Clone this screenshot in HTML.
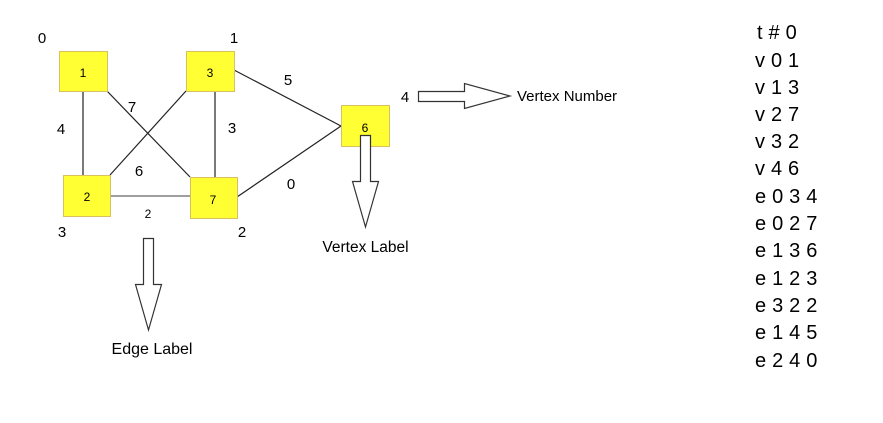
<!DOCTYPE html>
<html><head><style>
body{margin:0;background:#fff;}
svg text{font-family:"Liberation Sans",sans-serif;fill:#000;}
</style></head><body>
<svg width="883" height="418" viewBox="0 0 883 418" xmlns="http://www.w3.org/2000/svg">
<g stroke="#222" stroke-width="1.2" fill="none">
<line x1="83" y1="91" x2="83" y2="175"/>
<line x1="107" y1="91" x2="190" y2="177"/>
<line x1="186" y1="91" x2="110" y2="175"/>
<line x1="215" y1="92" x2="215" y2="177"/>
<line x1="234" y1="70" x2="341" y2="126"/>
<line x1="237" y1="197" x2="341" y2="126"/>
<line x1="110" y1="196" x2="190" y2="196" stroke="#666"/>
</g>
<g fill="#ffff33" stroke="#d8c060" stroke-width="1">
<rect x="59.5" y="51.5" width="48" height="40"/>
<rect x="186.5" y="51.5" width="48" height="40"/>
<rect x="341.5" y="105.5" width="48" height="41"/>
<rect x="63.5" y="175.5" width="47" height="41"/>
<rect x="190.5" y="177.5" width="47" height="41"/>
</g>
<g font-size="12" text-anchor="middle">
<text x="83" y="77">1</text>
<text x="210" y="77">3</text>
<text x="365" y="132">6</text>
<text x="87" y="201">2</text>
<text x="213" y="204">7</text>
<text x="148" y="218">2</text>
</g>
<g font-size="15" text-anchor="middle">
<text x="42" y="43">0</text>
<text x="234" y="43">1</text>
<text x="61" y="134">4</text>
<text x="132" y="112">7</text>
<text x="232" y="133">3</text>
<text x="288" y="85">5</text>
<text x="139" y="176">6</text>
<text x="291" y="189">0</text>
<text x="62" y="237">3</text>
<text x="242" y="237">2</text>
<text x="405" y="102">4</text>
</g>
<g fill="#fff" stroke="#333" stroke-width="1.2">
<polygon points="418.5,91.5 464.5,91.5 464.5,83.5 510,96 464.5,108.5 464.5,101.5 418.5,101.5"/>
<polygon points="360.5,135.5 370.5,135.5 370.5,181.5 378.5,181.5 365.5,227 352.5,181.5 360.5,181.5"/>
<polygon points="143.5,238.5 153.5,238.5 153.5,284.5 161.5,284.5 148.5,330 135.5,284.5 143.5,284.5"/>
</g>
<g font-size="15">
<text x="517" y="101">Vertex Number</text>
<text x="365.5" y="252" text-anchor="middle" font-size="15.5">Vertex Label</text>
<text x="152" y="354" text-anchor="middle" font-size="16">Edge Label</text>
</g>
<g font-size="20" letter-spacing="0.2">
<text x="757" y="39">t # 0</text>
<text x="755" y="67">v 0 1</text>
<text x="755" y="94">v 1 3</text>
<text x="755" y="121">v 2 7</text>
<text x="755" y="148">v 3 2</text>
<text x="755" y="175">v 4 6</text>
<text x="755" y="203">e 0 3 4</text>
<text x="755" y="230">e 0 2 7</text>
<text x="755" y="257">e 1 3 6</text>
<text x="755" y="285">e 1 2 3</text>
<text x="755" y="312">e 3 2 2</text>
<text x="755" y="339">e 1 4 5</text>
<text x="755" y="367">e 2 4 0</text>
</g>
</svg>
</body></html>
